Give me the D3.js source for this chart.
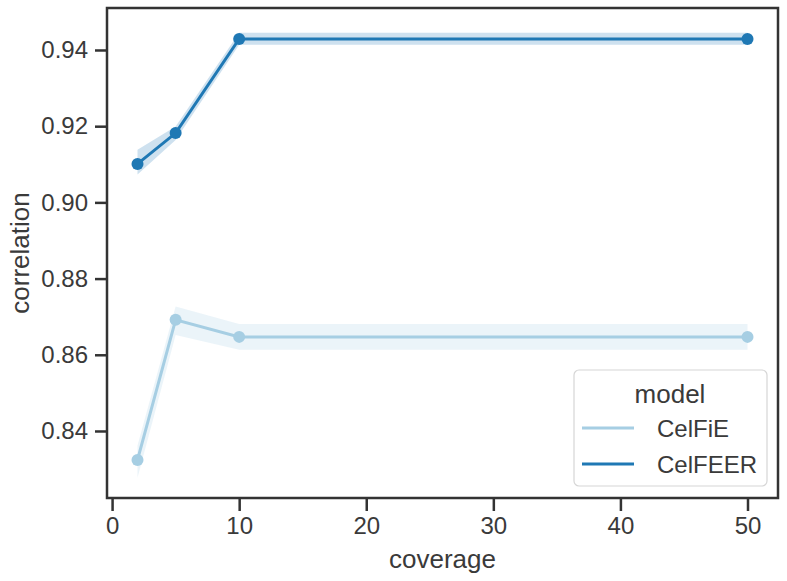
<!DOCTYPE html>
<html>
<head>
<meta charset="utf-8">
<script src="https://cdn.jsdelivr.net/npm/d3@7"></script>
<style>
  html, body { margin: 0; padding: 0; background: #fff; }
  svg { display: block; font-family: "Liberation Sans", Arial, sans-serif; }
</style>
</head>
<body>
<svg id="chart" width="787" height="581"></svg>
<script>
// ---- data ----
const coverage = [2, 5, 10, 50];
const models = ["CelFiE", "CelFEER"];
const celfieMean = [0.8324, 0.8692, 0.8647, 0.8647];
const celfieLow  = [0.8277, 0.8652, 0.8613, 0.8613];
const celfieHigh = [0.8362, 0.8727, 0.8681, 0.8681];
const celfeerMean = [0.9101, 0.9182, 0.9429, 0.9429];
const celfeerLow  = [0.9073, 0.9164, 0.9414, 0.9414];
const celfeerHigh = [0.9138, 0.9199, 0.9445, 0.9445];
const xTicks = [0, 10, 20, 30, 40, 50];
const yTicks = [0.84, 0.86, 0.88, 0.90, 0.92, 0.94];
const colors = ["#a6cee3", "#1f78b4"];

const series = [
  { name: models[0], mean: celfieMean, lo: celfieLow, hi: celfieHigh, color: colors[0] },
  { name: models[1], mean: celfeerMean, lo: celfeerLow, hi: celfeerHigh, color: colors[1] }
];

// ---- layout ----
const L = 107, R = 778, T = 8, B = 498;
const svg = d3.select("#chart");
const x = d3.scaleLinear().domain([-0.4, 52.4]).range([L, R]);
const y = d3.scaleLinear().domain([0.82241, 0.95102]).range([B, T]);
const textColor = "#3a3a3a";
const axisColor = "#333";

// ---- bands, lines, markers ----
series.forEach(s => {
  const pts = coverage.map((c, i) => ({ x: c, m: s.mean[i], lo: s.lo[i], hi: s.hi[i] }));
  svg.append("path")
    .attr("d", d3.area().x(d => x(d.x)).y0(d => y(d.lo)).y1(d => y(d.hi))(pts))
    .attr("fill", s.color).attr("fill-opacity", 0.22).attr("stroke", "none");
  svg.append("path")
    .attr("d", d3.line().x(d => x(d.x)).y(d => y(d.m))(pts))
    .attr("fill", "none").attr("stroke", s.color).attr("stroke-width", 3);
  svg.selectAll(null).data(pts).enter().append("circle")
    .attr("cx", d => x(d.x)).attr("cy", d => y(d.m)).attr("r", 6)
    .attr("fill", s.color);
});

// ---- axes ----
const xAxis = svg.append("g").attr("transform", `translate(0,${B})`)
  .call(d3.axisBottom(x).tickValues(xTicks).tickFormat(d3.format("d")).tickSize(13).tickPadding(6));
const yAxis = svg.append("g").attr("transform", `translate(${L},0)`)
  .call(d3.axisLeft(y).tickValues(yTicks).tickFormat(d3.format(".2f")).tickSize(12).tickPadding(7));
[xAxis, yAxis].forEach(g => {
  g.select(".domain").remove();
  g.selectAll(".tick line").attr("stroke", axisColor).attr("stroke-width", 2.5);
  g.selectAll(".tick text").attr("fill", textColor).style("font-size", "24px")
    .style("font-family", "'Liberation Sans', Arial, sans-serif");
});

// frame
svg.append("rect").attr("x", L).attr("y", T).attr("width", R - L).attr("height", B - T)
  .attr("fill", "none").attr("stroke", axisColor).attr("stroke-width", 2.5);

// axis labels
svg.append("text").attr("x", (L + R) / 2).attr("y", 568).attr("text-anchor", "middle")
  .attr("fill", textColor).style("font-size", "26px").text("coverage");
svg.append("text").attr("transform", `translate(29,${(T + B) / 2}) rotate(-90)`)
  .attr("text-anchor", "middle").attr("fill", textColor).style("font-size", "26px").text("correlation");

// ---- legend ----
const lg = svg.append("g");
lg.append("rect").attr("x", 574).attr("y", 370).attr("width", 193).attr("height", 116)
  .attr("rx", 5).attr("fill", "#fff").attr("fill-opacity", 0.85)
  .attr("stroke", "#d6d6d6").attr("stroke-width", 1.2);
lg.append("text").attr("x", 670).attr("y", 403).attr("text-anchor", "middle")
  .attr("fill", textColor).style("font-size", "26px").text("model");
series.forEach((s, i) => {
  const yy = 428 + i * 36;
  lg.append("line").attr("x1", 582).attr("x2", 634).attr("y1", yy).attr("y2", yy)
    .attr("stroke", s.color).attr("stroke-width", 3);
  lg.append("text").attr("x", 657).attr("y", yy + 8.5).attr("fill", textColor)
    .style("font-size", "24px").text(s.name);
});
</script>
</body>
</html>
